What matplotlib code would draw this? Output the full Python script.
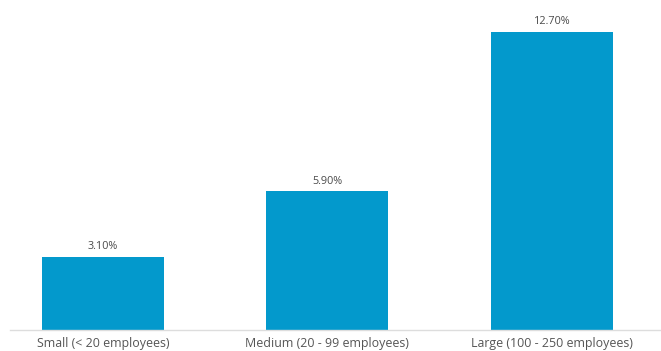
import matplotlib.pyplot as plt

# Share of businesses by size
categories = ['Small (< 20 employees)', 'Medium (20 - 99 employees)', 'Large (100 - 250 employees)']
values = [3.10, 5.90, 12.70]
value_labels = ['3.10%', '5.90%', '12.70%']

plt.rcParams['font.family'] = ['Open Sans', 'DejaVu Sans']

fig = plt.figure(figsize=(6.61, 3.51), dpi=100)
ax = fig.add_axes([10 / 661, 21 / 351, 651 / 661, 330 / 351])

x = range(len(categories))
bars = ax.bar(x, values, width=0.543, color='#0399cc')

for bar, label in zip(bars, value_labels):
    ax.text(bar.get_x() + bar.get_width() / 2, bar.get_height() + 0.2, label,
            ha='center', va='bottom', fontsize=7.8, color='#4a4a4a')

ax.set_xlim(-0.414, 2.486)
ax.set_ylim(0, 14.05)
ax.set_xticks(list(x))
ax.set_xticklabels(categories, fontsize=8.9, color='#555555')
ax.tick_params(axis='x', length=0, pad=5)
ax.set_yticks([])

for side in ['top', 'right', 'left']:
    ax.spines[side].set_visible(False)
ax.spines['bottom'].set_color('#dddddd')
ax.spines['bottom'].set_linewidth(1)

fig.savefig('out.png', dpi=100)
